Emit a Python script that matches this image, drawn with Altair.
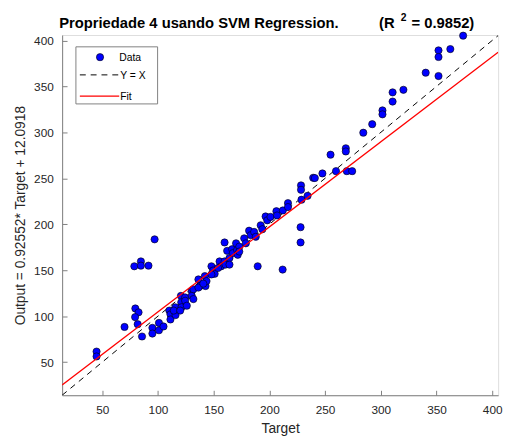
import altair as alt
import pandas as pd

target = [44.9, 44.9, 70.0, 79.7, 82.6, 79.5, 81.8, 85.7, 95.0, 95.0,
          100.9, 100.9, 105.0, 110.2, 111.2, 111.2, 115.6, 115.8, 114.2, 120.6,
          120.9, 121.1, 120.0, 124.4, 124.4, 125.9, 130.3, 130.3, 131.8, 131.8,
          136.3, 137.7, 136.3, 142.1, 142.7, 143.6, 140.7, 148.0, 149.5, 150.9,
          148.0, 155.3, 156.8, 153.9, 159.8, 160.6, 164.2, 164.2, 162.1, 166.6,
          167.2, 171.0, 171.6, 170.1, 173.0, 173.0, 177.4, 178.9, 181.8, 183.3,
          186.3, 187.8, 192.2, 193.7, 196.6, 198.1, 201.0, 206.3, 206.9, 212.1,
          216.7, 216.7, 228.4, 228.4, 228.8, 234.3, 239.3, 240.8, 247.6, 254.9,
          259.8, 268.6, 268.6, 269.5, 274.3, 284.3, 292.3, 301.5, 301.5, 310.6,
          310.6, 320.3, 340.3, 351.8, 351.8, 351.8, 362.4, 373.9, 97.0, 78.8,
          84.7, 84.7, 91.5, 159.8, 189.5, 211.9, 228.0, 228.0]
output = [61.5, 56.2, 88.3, 108.4, 104.2, 99.0, 91.3, 77.9, 87.3, 81.1,
          92.7, 84.7, 88.8, 106.1, 102.0, 96.4, 109.7, 101.2, 106.1, 122.1,
          115.1, 109.7, 106.1, 120.4, 116.8, 111.4, 127.5, 122.1, 118.6, 129.3,
          140.0, 132.8, 131.1, 143.6, 132.8, 138.2, 135.4, 154.3, 149.7, 146.1,
          145.4, 159.6, 154.3, 152.5, 159.6, 156.1, 163.3, 156.1, 171.1, 172.9,
          168.6, 172.1, 166.8, 179.3, 175.7, 170.3, 184.7, 179.3, 193.0, 188.2,
          191.7, 186.4, 198.9, 194.6, 208.5, 204.3, 208.0, 214.2, 209.6, 215.0,
          223.0, 218.7, 242.3, 237.5, 226.7, 231.0, 250.6, 250.3, 255.3, 275.7,
          257.8, 282.7, 279.2, 257.8, 257.8, 299.6, 308.9, 323.9, 319.6, 343.5,
          333.5, 346.3, 364.9, 389.2, 382.0, 361.3, 390.6, 405.2, 183.6, 154.3,
          159.6, 155.0, 155.0, 180.2, 154.3, 150.7, 196.8, 180.2]

ticks = [50, 100, 150, 200, 250, 300, 350, 400]
x_domain = [14, 405.3]
y_domain = [14, 405.9]
slope = 0.92552
intercept = 12.0918

W, H = 443, 366
FONT = "Liberation Sans"
AX = "#262626"

df = pd.DataFrame({"Target": target, "Output": output})
line_x = [x_domain[0], x_domain[1]]
lines = pd.DataFrame({"x": line_x, "yx": line_x,
                      "fit": [slope * v + intercept for v in line_x]})

xs = alt.Scale(domain=x_domain, nice=False, zero=False)
ys = alt.Scale(domain=y_domain, nice=False, zero=False)

x_axis = alt.Axis(values=ticks, grid=False, ticks=False, domainColor="#808080",
                  labelColor=AX, labelFont=FONT, labelFontSize=12, labelPadding=10,
                  title="Target", titleFont=FONT, titleFontSize=14,
                  titleFontWeight="normal", titleColor=AX, titlePadding=6)
y_axis = alt.Axis(values=ticks, grid=False, ticks=False, domainColor="#808080",
                  labelColor=AX, labelFont=FONT, labelFontSize=12, labelPadding=9,
                  title="Output = 0.92552* Target + 12.0918", titleFont=FONT,
                  titleFontSize=14, titleFontWeight="normal", titleColor=AX,
                  titlePadding=6)

pts = alt.Chart(df).mark_point(filled=True, shape="circle", size=54,
                               color="#0000FF", stroke="#000000",
                               strokeWidth=0.6, opacity=1).encode(
    x=alt.X("Target:Q", scale=xs, axis=x_axis),
    y=alt.Y("Output:Q", scale=ys, axis=y_axis),
)

tick_x = alt.Axis(values=ticks, orient="top", offset=-H, labels=False,
                  domain=False, grid=False, ticks=True, tickSize=5,
                  tickColor="#808080", title=None)
tick_y = alt.Axis(values=ticks, orient="right", offset=-W, labels=False,
                  domain=False, grid=False, ticks=True, tickSize=5,
                  tickColor="#808080", title=None)
ticklayer = alt.Chart(df).mark_point(opacity=0).encode(
    x=alt.X("Target:Q", scale=xs, axis=tick_x),
    y=alt.Y("Output:Q", scale=ys, axis=tick_y),
)

yx_line = alt.Chart(lines).mark_line(color="#000000", strokeWidth=1,
                                     strokeDash=[6, 5], clip=True).encode(
    x=alt.X("x:Q", scale=xs, axis=None), y=alt.Y("yx:Q", scale=ys, axis=None))
fit_line = alt.Chart(lines).mark_line(color="#FF0000", strokeWidth=1.3,
                                      clip=True).encode(
    x=alt.X("x:Q", scale=xs, axis=None), y=alt.Y("fit:Q", scale=ys, axis=None))

one = pd.DataFrame({"a": [0]})

def txt(s, x, y, size, weight="normal", align="left", color="#000000"):
    return alt.Chart(one).mark_text(text=s, align=align, baseline="alphabetic",
                                    font=FONT, fontSize=size, fontWeight=weight,
                                    color=color).encode(
        x=alt.value(x), y=alt.value(y))

title1 = txt("Propriedade 4 usando SVM Regression.", -3, -7, 15, "bold")
title2 = txt("(R", 322, -7, 15, "bold")
title3 = txt("2", 344, -14, 10.5, "bold")
title4 = txt("= 0.9852)", 355, -7, 15, "bold")

leg_box = alt.Chart(one).mark_rect(fill="white", stroke="#808080",
                                   strokeWidth=1).encode(
    x=alt.value(14), x2=alt.value(97), y=alt.value(12), y2=alt.value(70))
leg_pt = alt.Chart(one).mark_point(filled=True, shape="circle", size=54,
                                   color="#0000FF", stroke="#000000",
                                   strokeWidth=0.6, opacity=1).encode(
    x=alt.value(38.5), y=alt.value(22.5))
leg_dash = alt.Chart(one).mark_rule(color="#000000", strokeWidth=1,
                                    strokeDash=[6, 5]).encode(
    x=alt.value(18), x2=alt.value(58), y=alt.value(40.5))
leg_fit = alt.Chart(one).mark_rule(color="#FF0000", strokeWidth=1.3).encode(
    x=alt.value(18), x2=alt.value(58), y=alt.value(62))
leg_t1 = txt("Data", 58, 26, 10.5)
leg_t2 = txt("Y = X", 59, 44.5, 10.5)
leg_t3 = txt("Fit", 59, 66, 10.5)

chart = alt.layer(
    ticklayer, yx_line, pts, fit_line,
    leg_box, leg_pt, leg_dash, leg_fit, leg_t1, leg_t2, leg_t3,
    title1, title2, title3, title4,
).resolve_axis(x="independent", y="independent").properties(
    width=W, height=H,
    autosize=alt.AutoSizeParams(type="none"),
    padding={"left": 55, "top": 24, "right": 8, "bottom": 40},
).configure_view(stroke=None).configure(background="white")

chart.save("out.html", embed_options={"renderer": "svg", "actions": False})
